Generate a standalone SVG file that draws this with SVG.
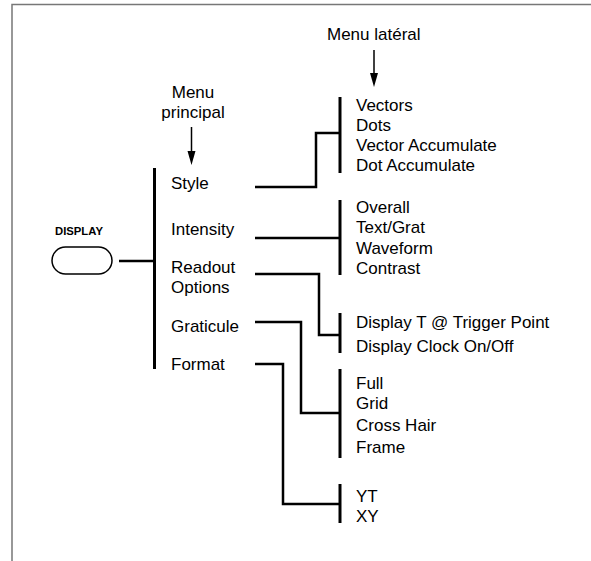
<svg xmlns="http://www.w3.org/2000/svg" width="591" height="561" viewBox="0 0 591 561">
<defs>
<style>
text{font-family:"Liberation Sans",Arial,sans-serif;font-size:17px;fill:#000}
.b{font-weight:bold;font-size:11.3px}
.c{fill:none;stroke:#000;stroke-width:2.5}
.bar{fill:none;stroke:#000;stroke-width:3}
</style>
</defs>
<rect width="591" height="561" fill="#fff"/>
<path d="M12,561 V4.5 H591" fill="none" stroke="#777" stroke-width="1.5"/>
<g id="menu-principal-label">
<text x="193" y="98" text-anchor="middle">Menu</text>
<text x="193" y="118" text-anchor="middle">principal</text>
<line x1="191.5" y1="127" x2="191.5" y2="153" stroke="#000" stroke-width="1.5"/>
<polygon points="187.5,151 195.5,151 191.5,165" fill="#000"/>
</g>
<g id="menu-lateral-label">
<text x="327" y="40">Menu latéral</text>
<line x1="374" y1="50" x2="374" y2="75" stroke="#000" stroke-width="1.5"/>
<polygon points="370,73 378,73 374,87" fill="#000"/>
</g>
<g id="display-button">
<text class="b" x="55" y="235">DISPLAY</text>
<rect x="52" y="247" width="60" height="27" rx="13.5" fill="#fff" stroke="#000" stroke-width="1.5"/>
</g>
<g id="main-menu">
<line class="bar" x1="154.5" y1="168" x2="154.5" y2="369"/>
<text x="171" y="189">Style</text>
<text x="171" y="235">Intensity</text>
<text x="171" y="273">Readout</text>
<text x="171" y="293">Options</text>
<text x="171" y="332">Graticule</text>
<text x="171" y="370">Format</text>
</g>
<g id="style-side">
<line class="bar" x1="340" y1="97" x2="340" y2="173"/>
<text x="356" y="111">Vectors</text>
<text x="356" y="131">Dots</text>
<text x="356" y="151">Vector Accumulate</text>
<text x="356" y="171">Dot Accumulate</text>
</g>
<g id="intensity-side">
<line class="bar" x1="340" y1="200" x2="340" y2="275"/>
<text x="356" y="213">Overall</text>
<text x="356" y="233">Text/Grat</text>
<text x="356" y="254">Waveform</text>
<text x="356" y="274">Contrast</text>
</g>
<g id="readout-side">
<line class="bar" x1="340" y1="313" x2="340" y2="353"/>
<text x="356" y="328">Display T @ Trigger Point</text>
<text x="356" y="352">Display Clock On/Off</text>
</g>
<g id="graticule-side">
<line class="bar" x1="340" y1="369" x2="340" y2="458"/>
<text x="356" y="389">Full</text>
<text x="356" y="409">Grid</text>
<text x="356" y="431">Cross Hair</text>
<text x="356" y="453">Frame</text>
</g>
<g id="format-side">
<line class="bar" x1="340" y1="484" x2="340" y2="523"/>
<text x="356" y="502">YT</text>
<text x="356" y="522">XY</text>
</g>
<g id="connectors">
<path class="c" d="M119,261 H154"/>
<path class="c" d="M255,187 H316 V133 H340"/>
<path class="c" d="M255,238 H340"/>
<path class="c" d="M255,274 H319 V335 H340"/>
<path class="c" d="M255,322 H301 V413 H340"/>
<path class="c" d="M255,364 H283 V504 H340"/>
</g>
</svg>
